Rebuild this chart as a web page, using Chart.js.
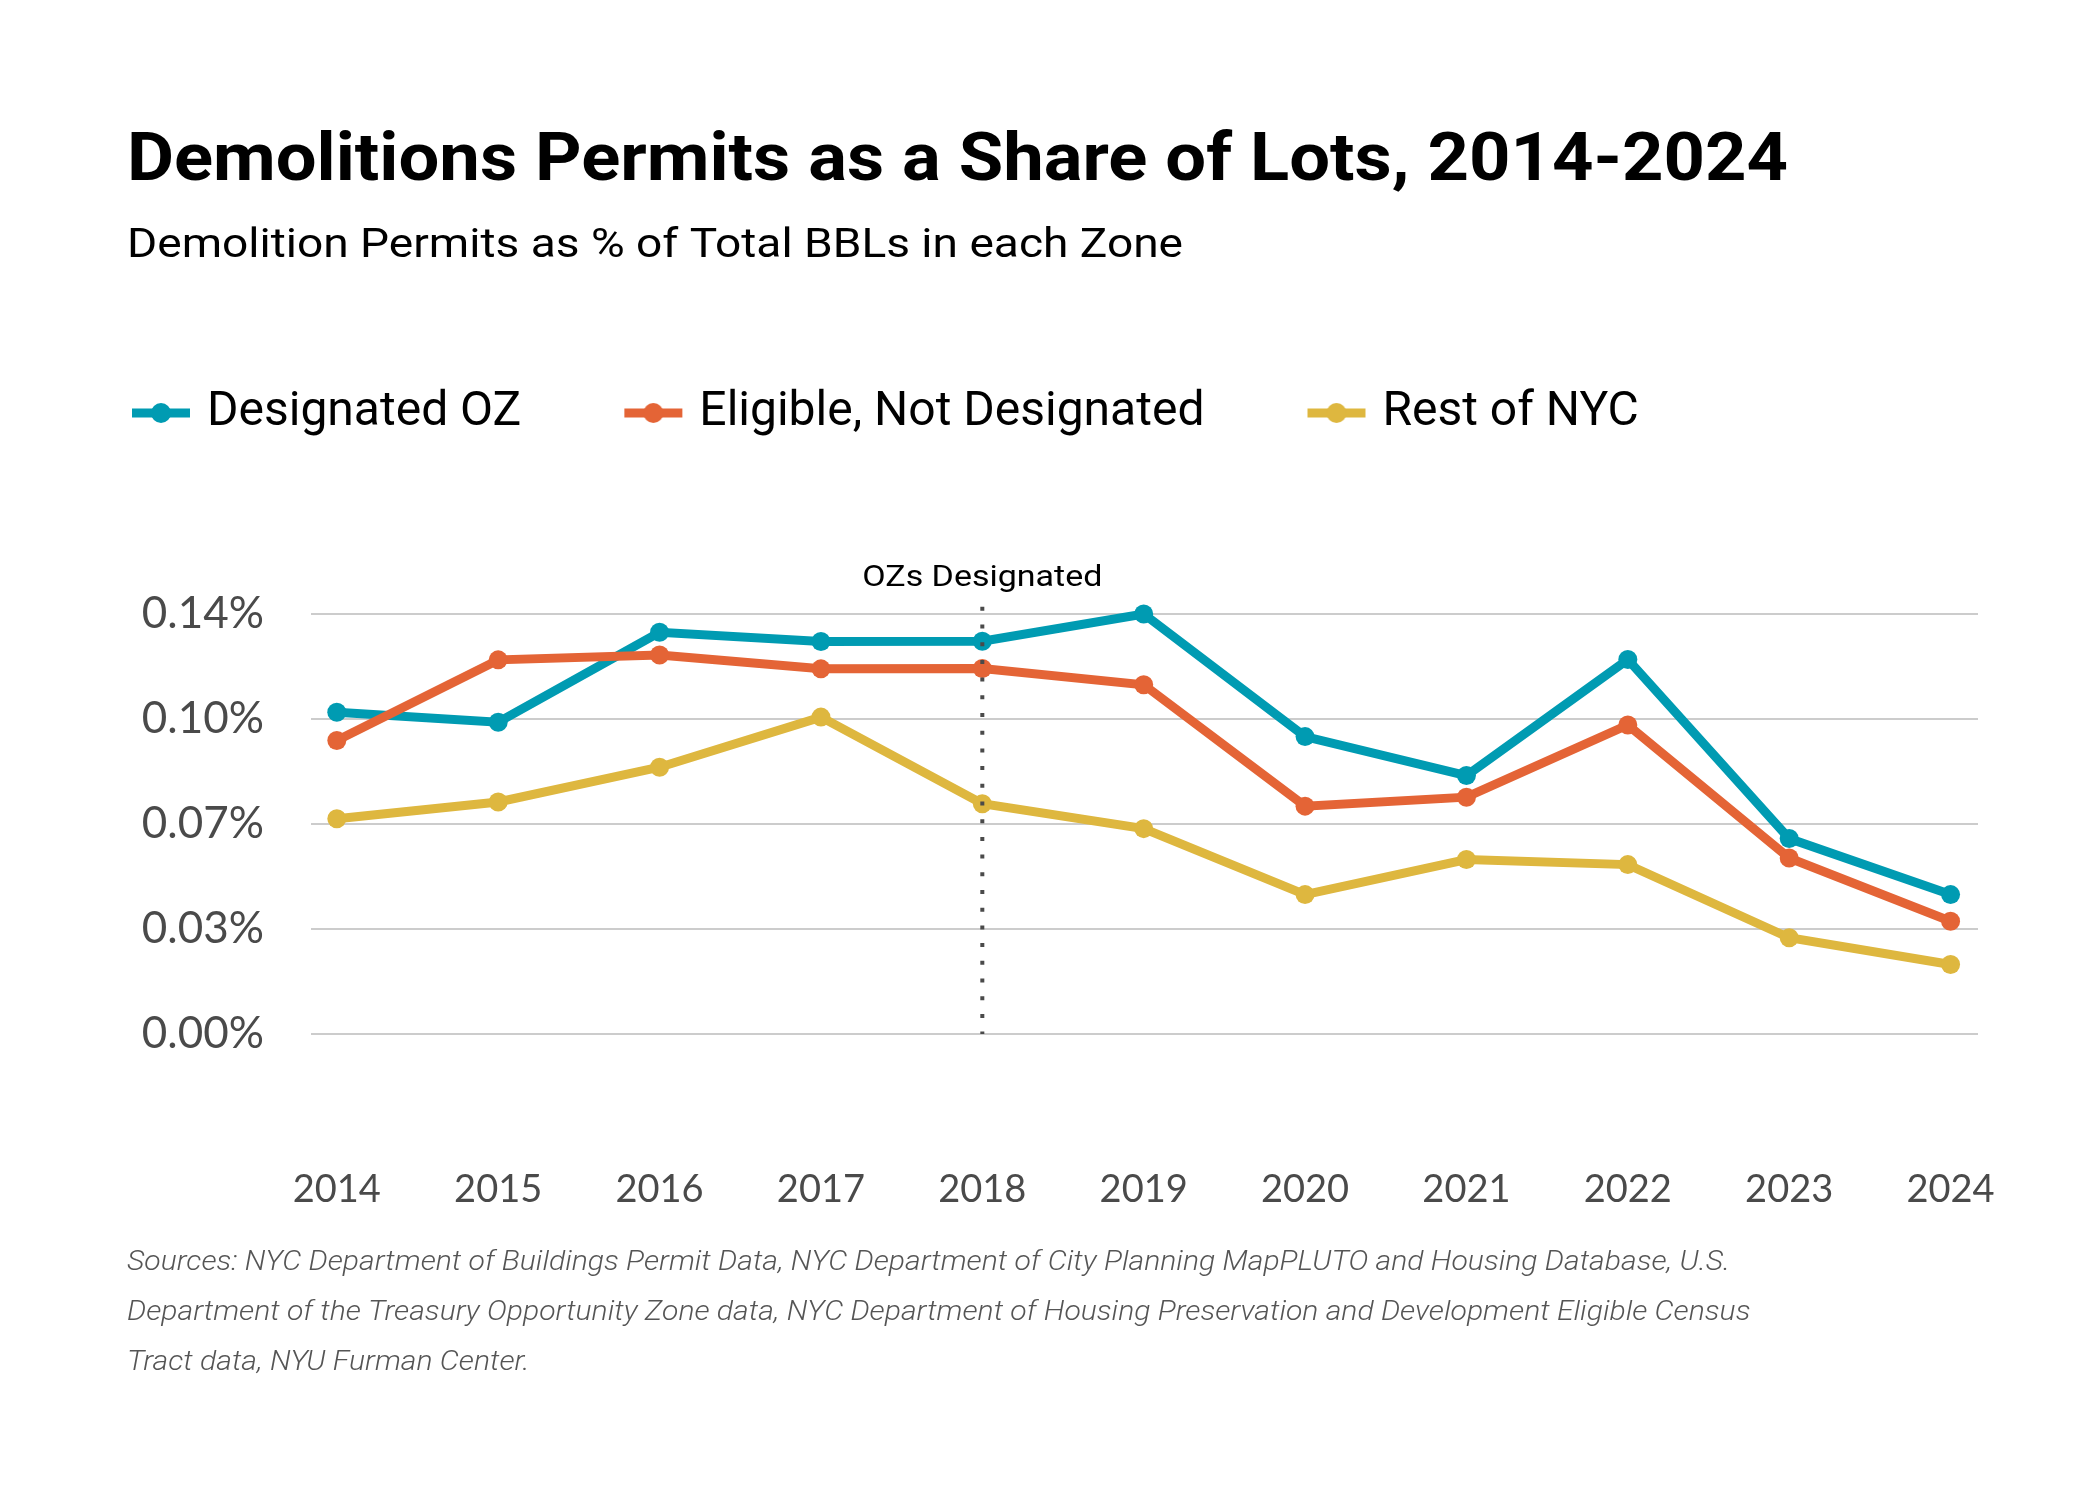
<!DOCTYPE html>
<html>
<head>
<meta charset="utf-8">
<script src="https://cdn.jsdelivr.net/npm/chart.js@4.4.1/dist/chart.umd.min.js"></script>
<style>
  html, body { margin: 0; padding: 0; background: #ffffff; }
  #wrap { width: 2100px; height: 1500px; position: relative; }
</style>
</head>
<body>
<div id="wrap"><canvas id="chart" width="2100" height="1500"></canvas></div>
<script>
// ---------------- data ----------------
const years = [2014, 2015, 2016, 2017, 2018, 2019, 2020, 2021, 2022, 2023, 2024];
const designatedOZ = [0.1073, 0.1040, 0.1340, 0.1309, 0.1310, 0.1401, 0.0992, 0.0862, 0.1249, 0.0652, 0.0465];
const eligibleNotDesignated = [0.0979, 0.1248, 0.1264, 0.1218, 0.1219, 0.1165, 0.0760, 0.0790, 0.1031, 0.0587, 0.0376];
const restOfNYC = [0.0718, 0.0774, 0.0890, 0.1057, 0.0768, 0.0685, 0.0465, 0.0582, 0.0565, 0.0321, 0.0232];
const seriesNames = ['Designated OZ', 'Eligible, Not Designated', 'Rest of NYC'];
const yTickValues = [0, 0.035, 0.07, 0.105, 0.14];
const yTickLabels = ['0.00%', '0.03%', '0.07%', '0.10%', '0.14%'];
const annotationYear = 2018;
const annotationText = 'OZs Designated';
const titleText = 'Demolitions Permits as a Share of Lots, 2014-2024';
const subtitleText = 'Demolition Permits as % of Total BBLs in each Zone';
const sourceLines = [
  'Sources: NYC Department of Buildings Permit Data, NYC Department of City Planning MapPLUTO and Housing Database, U.S.',
  'Department of the Treasury Opportunity Zone data, NYC Department of Housing Preservation and Development Eligible Census',
  'Tract data, NYU Furman Center.'
];

// ---------------- styles ----------------
const seriesColors = ['#009BB2', '#E46436', '#DEB73F'];
const seriesOrder = [2, 1, 3];

function legendMarker(color) {
  const W = 160, H = 24;
  const c = document.createElement('canvas');
  c.width = W; c.height = H;
  const g = c.getContext('2d');
  g.fillStyle = color;
  g.fillRect(101, H / 2 - 4.5, 58, 9);
  g.beginPath();
  g.arc(130, H / 2, 10, 0, Math.PI * 2);
  g.fill();
  return c;
}
const legendMarkers = seriesColors.map(legendMarker);

function drawFitted(ctx, text, x, y, font, color, scaleX, align) {
  ctx.save();
  ctx.font = font;
  ctx.fillStyle = color;
  ctx.textBaseline = 'alphabetic';
  ctx.textAlign = align || 'left';
  ctx.translate(x, y);
  ctx.scale(scaleX, 1);
  ctx.fillText(text, 0, 0);
  ctx.restore();
}
function widthOf(ctx, text, font) {
  ctx.save(); ctx.font = font; const w = ctx.measureText(text).width; ctx.restore(); return w;
}

const textPlugin = {
  id: 'textPlugin',
  afterDatasetsDraw(chart) {
    const ctx = chart.ctx;
    const xs = chart.scales.x, ys = chart.scales.y;
    const px = xs.getPixelForValue(annotationYear);
    const top = ys.getPixelForValue(0.1425);
    const bottom = ys.getPixelForValue(0);
    ctx.save();
    ctx.strokeStyle = '#4a4a4a';
    ctx.lineWidth = 4;
    ctx.setLineDash([4, 13.7]);
    ctx.beginPath();
    ctx.moveTo(px, top);
    ctx.lineTo(px, bottom);
    ctx.stroke();
    ctx.restore();
    const aFont = '400 30px Roboto';
    const aw = widthOf(ctx, annotationText, aFont);
    drawFitted(ctx, annotationText, px, top - 21, aFont, '#000000', 240 / aw, 'center');
  },
  afterDraw(chart) {
    const ctx = chart.ctx;
    const tFont = '700 67px Roboto';
    drawFitted(ctx, titleText, 127, 180, tFont, '#000000', 1661 / widthOf(ctx, titleText, tFont));
    const sFont = '400 40px Roboto';
    drawFitted(ctx, subtitleText, 127, 257, sFont, '#000000', 1056 / widthOf(ctx, subtitleText, sFont));
    const nFont = 'italic 300 28px Roboto';
    const ns = 1603 / widthOf(ctx, sourceLines[0], nFont);
    sourceLines.forEach((line, i) => {
      drawFitted(ctx, line, 127, 1270 + i * 50, nFont, '#555555', ns);
    });
  }
};

const seriesValues = [designatedOZ, eligibleNotDesignated, restOfNYC];
const datasets = seriesNames.map((name, i) => ({
  label: name,
  data: years.map((yr, j) => ({ x: yr, y: seriesValues[i][j] })),
  borderColor: seriesColors[i],
  backgroundColor: seriesColors[i],
  pointBackgroundColor: seriesColors[i],
  pointBorderWidth: 0,
  pointRadius: 9.5,
  pointHoverRadius: 9.5,
  borderWidth: 9,
  tension: 0,
  fill: false,
  order: seriesOrder[i]
}));

new Chart(document.getElementById('chart'), {
  type: 'line',
  data: { datasets },
  plugins: [textPlugin],
  options: {
    responsive: false,
    animation: false,
    devicePixelRatio: 1,
    layout: { padding: { top: 379, left: 29, right: 122, bottom: 287 } },
    plugins: {
      title: { display: false },
      tooltip: { enabled: false },
      legend: {
        display: true,
        position: 'top',
        align: 'start',
        labels: {
          usePointStyle: true,
          pointStyleWidth: 144,
          padding: 10,
          color: '#000000',
          font: { family: 'Roboto', size: 48, weight: '400' },
          sort: (a, b) => a.datasetIndex - b.datasetIndex,
          generateLabels(chart) {
            const items = Chart.defaults.plugins.legend.labels.generateLabels(chart);
            items.forEach(it => { it.pointStyle = legendMarkers[it.datasetIndex]; });
            return items;
          }
        }
      }
    },
    scales: {
      x: {
        type: 'linear',
        min: 2013.84,
        max: 2024.17,
        afterBuildTicks: s => { s.ticks = years.map(v => ({ value: v })); },
        afterFit: s => { s.height = 179; s.paddingLeft = 0; s.paddingRight = 0; },
        grid: { display: false, drawTicks: false },
        border: { display: false },
        ticks: {
          autoSkip: false,
          maxRotation: 0,
          padding: 133,
          color: '#4a4a4a',
          font: { family: 'Lato', size: 38 },
          callback: v => String(v)
        }
      },
      y: {
        min: 0,
        max: 0.1958,
        afterBuildTicks: s => { s.ticks = yTickValues.map(v => ({ value: v })); },
        afterFit: s => { s.width = 282; s.paddingTop = 0; s.paddingBottom = 0; },
        grid: { color: '#cccccc', lineWidth: 2, drawTicks: false },
        border: { display: false },
        ticks: {
          padding: 47,
          color: '#4a4a4a',
          font: { family: 'Lato', size: 44 },
          callback: (v, i) => yTickLabels[i]
        }
      }
    }
  }
});
</script>
</body>
</html>
